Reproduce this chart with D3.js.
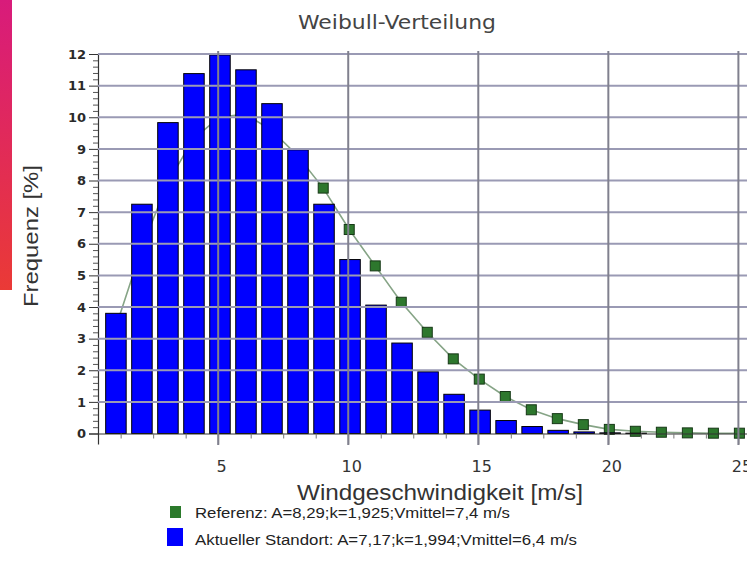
<!DOCTYPE html>
<html><head><meta charset="utf-8">
<script src="https://cdn.jsdelivr.net/npm/d3@7"></script>
<style>body{margin:0;background:#fff}svg{display:block}</style>
</head><body>
<svg id="c" width="747" height="575"></svg>
<script>
// ---- data ----
const speeds = [1,2,3,4,5,6,7,8,9,10,11,12,13,14,15,16,17,18,19,20,21,22,23,24,25];
const standort = [3.8,7.25,9.83,11.38,11.97,11.5,10.43,8.97,7.25,5.5,4.06,2.86,1.95,1.24,0.74,0.41,0.22,0.1,0.05,0.02,0.01,0,0,0,0];
const referenz = [3.3,5.8,7.9,9.3,10.0,10.1,9.6,8.8,7.76,6.45,5.3,4.15,3.2,2.36,1.72,1.17,0.75,0.47,0.28,0.13,0.07,0.04,0.02,0.01,0.01];
const yTicks = [0,1,2,3,4,5,6,7,8,9,10,11,12];
const xTicks = [5,10,15,20,25];
const title = "Weibull-Verteilung";
const xTitle = "Windgeschwindigkeit [m/s]";
const yTitle = "Frequenz [%]";
const legendLabels = ["Referenz: A=8,29;k=1,925;Vmittel=7,4 m/s","Aktueller Standort: A=7,17;k=1,994;Vmittel=6,4 m/s"];

const svg = d3.select("#c");
const font = "'DejaVu Sans', sans-serif";
const sans = "'Liberation Sans', Arial, sans-serif";

// pink strip
const defs = svg.append("defs");
const g1 = defs.append("linearGradient").attr("id","pk").attr("x1",0).attr("y1",0).attr("x2",0).attr("y2",1);
g1.append("stop").attr("offset","0%").attr("stop-color","#d81b7b");
g1.append("stop").attr("offset","100%").attr("stop-color","#ea3a36");
svg.append("rect").attr("x",0).attr("y",0).attr("width",12).attr("height",290).attr("fill","url(#pk)");

const x = d3.scaleLinear().domain([0.38,25.35]).range([98,747.5]);
const y = d3.scaleLinear().domain([0,12]).range([433.5,54]);
const bw = 20.5;

// reference line + markers (behind bars)
const refLayer = svg.append("g").attr("class","ref");
refLayer.append("path").datum(speeds.map((s,i)=>[s,referenz[i]]))
  .attr("d", d3.line().x(d=>x(d[0])+1).y(d=>y(d[1])))
  .attr("fill","none").attr("stroke","#86a486").attr("stroke-width",1.6);
refLayer.selectAll("rect.mk").data(speeds).join("rect").attr("class","mk")
  .attr("x",(d)=>x(d)+1-5).attr("y",(d,i)=>y(referenz[i])-5)
  .attr("width",10).attr("height",10)
  .attr("fill","#2d772d").attr("stroke","#163816").attr("stroke-width",1);

// bars
const barLayer = svg.append("g").attr("class","bars");
barLayer.selectAll("rect.bar").data(speeds).join("rect").attr("class","bar")
  .attr("x",d=>x(d)-bw/2+1.8).attr("y",(d,i)=>y(standort[i]))
  .attr("width",bw).attr("height",(d,i)=>y(0)-y(standort[i]))
  .attr("fill","#0000ff").attr("stroke","#000").attr("stroke-width",1)
  .attr("display",(d,i)=>standort[i]>0?null:"none");

// axes
const yAxis = d3.axisLeft(y).tickValues(yTicks).tickSize(9).tickPadding(3);
const ya = svg.append("g").attr("transform","translate(98,0)").call(yAxis);
ya.select(".domain").attr("stroke","#333").attr("stroke-width",1.2);
ya.selectAll(".tick line").attr("stroke","#333");
ya.selectAll("text").attr("font-family",font).attr("font-weight","bold").attr("font-size",13).attr("fill","#2a2a2a");
const yMinor = d3.range(0,12.01,0.2).filter(v=>Math.abs(v-Math.round(v))>0.01);
svg.append("g").attr("transform","translate(98,0)")
  .call(d3.axisLeft(y).tickValues(yMinor).tickSize(5).tickFormat(""))
  .call(g=>{g.select(".domain").remove();g.selectAll("line").attr("stroke","#555");});

const xAxis = d3.axisBottom(x).tickValues(xTicks).tickSize(11).tickPadding(16);
const xa = svg.append("g").attr("transform","translate(0,433.5)").call(xAxis);
xa.select(".domain").attr("stroke","#333").attr("stroke-width",1.2);
xa.selectAll(".tick line").attr("stroke","#666");
xa.selectAll("text").attr("font-family",font).attr("font-size",16).attr("fill","#333").attr("dx",3);
const xMinor = d3.range(1.25,25.3,1.25).filter(v=>v%5!==0);
svg.append("g").attr("transform","translate(0,433.5)")
  .call(d3.axisBottom(x).tickValues(xMinor).tickSize(5).tickFormat(""))
  .call(g=>{g.select(".domain").remove();g.selectAll("line").attr("stroke","#777");});

// grid drawn last, over the bars
const grid = svg.append("g").attr("class","grid");
grid.selectAll("line.h").data(yTicks.filter(t=>t>0)).join("line").attr("class","h")
  .attr("x1",98).attr("x2",747).attr("y1",d=>y(d)).attr("y2",d=>y(d))
  .style("stroke","#9a9ab4").style("stroke-width","2px");
grid.selectAll("line.v").data(xTicks).join("line").attr("class","v")
  .attr("x1",d=>x(d)).attr("x2",d=>x(d)).attr("y1",51).attr("y2",445)
  .style("stroke","#80808e").style("stroke-width","2px");
grid.raise();

// titles
svg.append("text").attr("x",298).attr("y",29)
  .attr("font-family",font).attr("font-size",20).attr("fill","#444")
  .attr("textLength",198).attr("lengthAdjust","spacingAndGlyphs").text(title);
svg.append("text").attr("x",297).attr("y",500)
  .attr("font-family",sans).attr("font-size",22).attr("fill","#333")
  .attr("textLength",286).attr("lengthAdjust","spacingAndGlyphs").text(xTitle);
svg.append("text").attr("transform","translate(38,307) rotate(-90)")
  .attr("font-family",sans).attr("font-size",21).attr("fill","#333")
  .attr("textLength",142).attr("lengthAdjust","spacingAndGlyphs").text(yTitle);

// legend
const lg = svg.append("g").attr("font-family",sans).attr("font-size",14).attr("fill","#222");
lg.append("rect").attr("x",170).attr("y",506).attr("width",11).attr("height",12).attr("fill","#2b7a2b");
lg.append("text").attr("x",195).attr("y",518).attr("textLength",315).attr("lengthAdjust","spacingAndGlyphs").text(legendLabels[0]);
lg.append("rect").attr("x",167).attr("y",528).attr("width",16).attr("height",18).attr("fill","#0000ff");
lg.append("text").attr("x",195).attr("y",545).attr("textLength",382).attr("lengthAdjust","spacingAndGlyphs").text(legendLabels[1]);
</script>
</body></html>
